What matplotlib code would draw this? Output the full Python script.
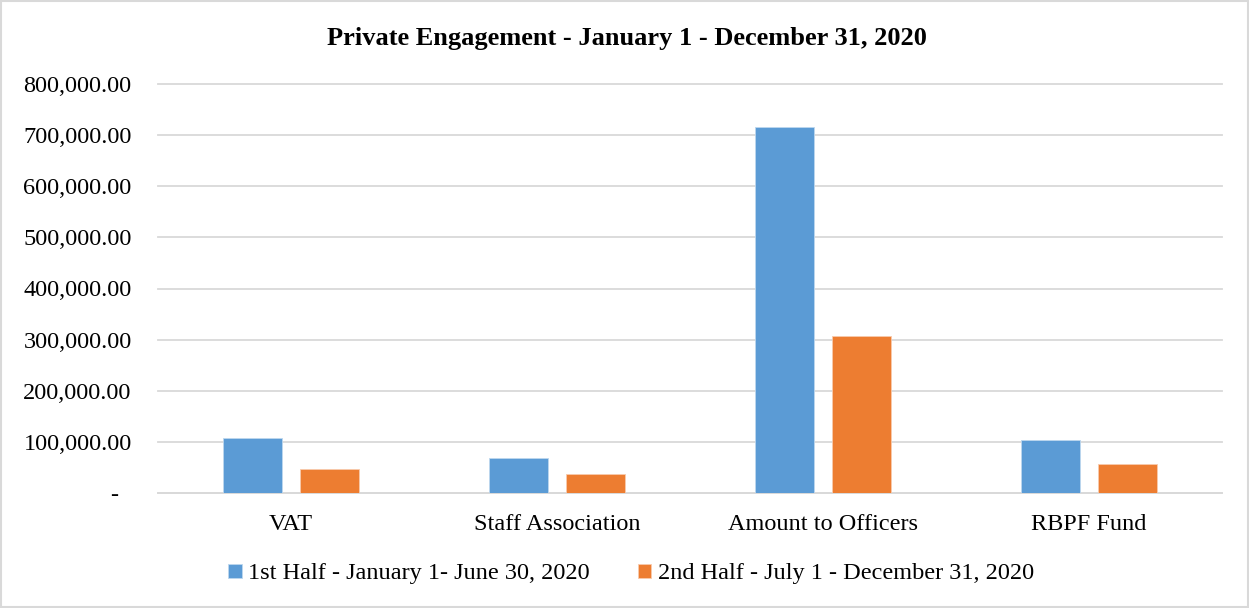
import matplotlib.pyplot as plt
import numpy as np
from matplotlib.patches import Rectangle

plt.rcParams['font.family'] = ['Liberation Serif', 'DejaVu Serif']

categories = ['VAT', 'Staff Association', 'Amount to Officers', 'RBPF Fund']
first_half = [107300, 68600, 715700, 103300]
second_half = [47700, 37200, 307300, 56300]
series_names = ['1st Half - January 1- June 30, 2020', '2nd Half - July 1 - December 31, 2020']
yticks = [0, 100000, 200000, 300000, 400000, 500000, 600000, 700000, 800000]

fig = plt.figure(figsize=(12.49, 6.08), dpi=100)
ax = fig.add_axes([158 / 1249, 1 - 493 / 608, 1064 / 1249, 409 / 608])

x = np.arange(len(categories))
w = 0.222
off = 0.143
ax.bar(x - off, first_half, w, color='#5B9BD5', edgecolor='#bdd7ee', linewidth=0.6,
       label=series_names[0], zorder=3)
ax.bar(x + off, second_half, w, color='#ED7D31', edgecolor='#f8cbad', linewidth=0.6,
       label=series_names[1], zorder=3)

ax.set_xlim(-0.5, 3.5)
ax.set_ylim(0, 800000)
ax.set_yticks(yticks)
ax.set_yticklabels(['-  '] + ['{:,.2f}'.format(v) for v in yticks[1:]])
ax.set_xticks(x)
ax.set_xticklabels(categories)
ax.tick_params(axis='both', length=0, labelsize=17.5, colors='black')
ax.tick_params(axis='y', pad=19)
ax.tick_params(axis='x', pad=15)
ax.grid(axis='y', color='#d9d9d9', linewidth=1.3, zorder=0)
for line in ax.get_ygridlines():
    line.set_clip_on(False)
for s in ['top', 'right', 'left']:
    ax.spines[s].set_visible(False)
ax.spines['bottom'].set_color('#d9d9d9')
ax.spines['bottom'].set_linewidth(1.3)

fig.suptitle('Private Engagement - January 1 - December 31, 2020', y=1 - 39 / 608,
             va='center', fontsize=19, fontweight='bold', x=627 / 1249)

fig.legend(loc='center', bbox_to_anchor=(631 / 1249, 1 - 574 / 608), ncol=2,
           frameon=False, fontsize=17.5, handlelength=0.55, handleheight=0.55,
           handletextpad=0.25, columnspacing=2.0)

fig.patches.append(Rectangle((0.001, 0.001), 0.998, 0.997, transform=fig.transFigure,
                             fill=False, edgecolor='#d9d9d9', linewidth=1.5))

fig.savefig('out.png', dpi=100)
